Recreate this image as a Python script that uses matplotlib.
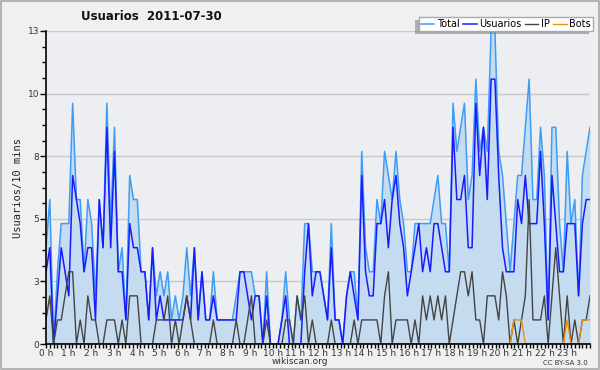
import numpy as np
import matplotlib
matplotlib.use("Agg")
import matplotlib.pyplot as plt
from matplotlib.ticker import MultipleLocator

# 10-minute samples for 2011-07-30 (144 values)
usuarios = [3, 4, 0, 2, 4, 3, 2, 7, 6, 5, 3, 4, 4, 1, 6, 4, 9, 4, 8, 3, 3, 1, 5, 4,
            4, 3, 3, 1, 4, 1, 2, 1, 1, 1, 1, 1, 1, 2, 1, 4, 1, 3, 1, 1, 2, 1, 1, 1,
            1, 1, 1, 3, 3, 2, 1, 2, 2, 0, 2, 0, 0, 0, 1, 2, 0, 0, 0, 0, 3, 5, 2, 3,
            3, 2, 1, 4, 1, 1, 0, 2, 3, 2, 1, 7, 3, 2, 2, 5, 5, 6, 4, 6, 7, 5, 4, 2,
            3, 4, 5, 3, 4, 3, 5, 5, 4, 3, 3, 9, 6, 6, 7, 4, 4, 10, 7, 9, 6, 11, 11, 7,
            4, 3, 3, 3, 6, 5, 7, 5, 5, 5, 8, 5, 1, 7, 5, 3, 3, 5, 5, 5, 2, 5, 6, 6]
ip = [1, 2, 0, 1, 1, 2, 3, 3, 0, 1, 0, 2, 1, 1, 0, 0, 1, 1, 1, 0, 1, 0, 2, 2,
      2, 0, 0, 0, 0, 1, 1, 1, 2, 0, 1, 0, 1, 2, 1, 0, 0, 0, 0, 0, 1, 0, 0, 0,
      0, 0, 1, 0, 0, 1, 2, 0, 0, 0, 1, 0, 0, 0, 0, 1, 1, 0, 2, 1, 2, 0, 1, 0,
      0, 0, 0, 1, 0, 0, 0, 0, 0, 1, 0, 1, 1, 1, 1, 1, 0, 2, 3, 0, 1, 1, 1, 1,
      0, 1, 0, 2, 1, 2, 1, 2, 1, 2, 0, 1, 2, 3, 3, 2, 3, 1, 1, 0, 2, 2, 2, 1,
      3, 2, 0, 1, 0, 1, 2, 6, 1, 1, 1, 2, 0, 2, 4, 2, 0, 2, 0, 1, 0, 1, 1, 2]
bots = [0] * 123 + [1, 1, 1] + [0] * 11 + [1] + [0, 0, 0] + [1, 1, 1]
total = [4, 6, 0, 3, 5, 5, 5, 10, 6, 6, 3, 6, 5, 2, 6, 4, 10, 5, 9, 3, 4, 1, 7, 6,
         6, 3, 3, 1, 4, 2, 3, 2, 3, 1, 2, 1, 2, 4, 2, 4, 1, 3, 1, 1, 3, 1, 1, 1,
         1, 1, 2, 3, 3, 3, 3, 2, 2, 0, 3, 0, 0, 0, 1, 3, 1, 0, 2, 1, 5, 5, 3, 3,
         3, 2, 1, 5, 1, 1, 0, 2, 3, 3, 1, 8, 4, 3, 3, 6, 5, 8, 7, 6, 8, 6, 5, 3,
         3, 5, 5, 5, 5, 5, 6, 7, 5, 5, 3, 10, 8, 9, 10, 6, 7, 11, 8, 9, 8, 13, 13, 8,
         7, 5, 3, 5, 7, 7, 9, 11, 6, 6, 9, 7, 1, 9, 9, 5, 3, 8, 5, 6, 2, 7, 8, 9]

hour_labels = ["%d h" % h for h in range(24)]
y_ticks = [0, 2.6, 5.2, 7.8, 10.4, 13]
y_labels = ["0", "3", "5", "8", "10", "13"]

x = np.linspace(0, 24, len(total))

fig = plt.figure(figsize=(6, 3.7), dpi=100, facecolor="#f0f0f0")
ax = fig.add_axes([46 / 600, 26 / 370, 544 / 600, 313 / 370])
ax.set_facecolor("#eceef1")

ax.fill_between(x, total, 0, color="#c5dcf0", lw=0, zorder=1)
l1, = ax.plot(x, total, color="#3f9cf5", lw=1.1, zorder=3, label="Total")
l2, = ax.plot(x, usuarios, color="#1a1aff", lw=1.1, zorder=4, label="Usuarios")
l3, = ax.plot(x, ip, color="#444444", lw=1.0, zorder=5, label="IP")
l4, = ax.plot(x, bots, color="#f0900a", lw=1.0, zorder=6, label="Bots")

ax.set_xlim(0, 24)
ax.set_ylim(0, 13)
ax.set_yticks(y_ticks)
ax.set_yticklabels(y_labels)
ax.yaxis.set_minor_locator(MultipleLocator(0.65))
ax.set_xticks(range(24))
ax.set_xticklabels(hour_labels)
ax.xaxis.set_minor_locator(MultipleLocator(1 / 6))
ax.grid(axis="y", color="#c8c8c8", lw=1.0, zorder=0)
ax.set_axisbelow(True)

for s in ["top", "right"]:
    ax.spines[s].set_visible(False)
for s in ["left", "bottom"]:
    ax.spines[s].set_color("black")
    ax.spines[s].set_linewidth(1.2)
    ax.spines[s].set_zorder(10)

ax.tick_params(axis="both", which="major", length=4, width=1, labelsize=6.5,
               colors="black", labelcolor="#333333", pad=1)
ax.tick_params(axis="both", which="minor", length=3, width=1)
ax.tick_params(axis="x", which="major", length=3, pad=0.5)

ax.set_ylabel("Usuarios/10 mins", fontsize=7.5, color="#222222", labelpad=3,
              family="DejaVu Sans Mono")

fig.text(151 / 600, 1 - 16 / 370, "Usuarios  2011-07-30", ha="center", va="center",
         fontsize=8.5, fontweight="bold", color="#111111")
fig.text(300 / 600, 1 - 362 / 370, "wikiscan.org", ha="center", va="center",
         fontsize=6.5, color="#333333")
fig.text(588 / 600, 1 - 363 / 370, "CC BY-SA 3.0", ha="right", va="center",
         fontsize=5, color="#333333")

leg = fig.legend(handles=[l1, l2, l3, l4], loc="upper right",
                 bbox_to_anchor=(593 / 600, 1 - 17 / 370), ncol=4, fontsize=7,
                 handlelength=1.4, handletextpad=0.3, columnspacing=0.3,
                 borderpad=0.2, frameon=True, fancybox=False,
                 shadow={"ox": -3, "oy": -2.5, "facecolor": "#707070", "edgecolor": "none"},
                 framealpha=1, borderaxespad=0)
leg.get_frame().set_edgecolor("#aaaaaa")
leg.get_frame().set_facecolor("white")
leg.set_zorder(20)

# outer border
fig.patches.append(plt.Rectangle((0.002, 0.003), 0.996, 0.994, transform=fig.transFigure,
                                 fill=False, edgecolor="#a8a8a8", lw=1.2))

fig.savefig("out.png", dpi=100, facecolor=fig.get_facecolor())
